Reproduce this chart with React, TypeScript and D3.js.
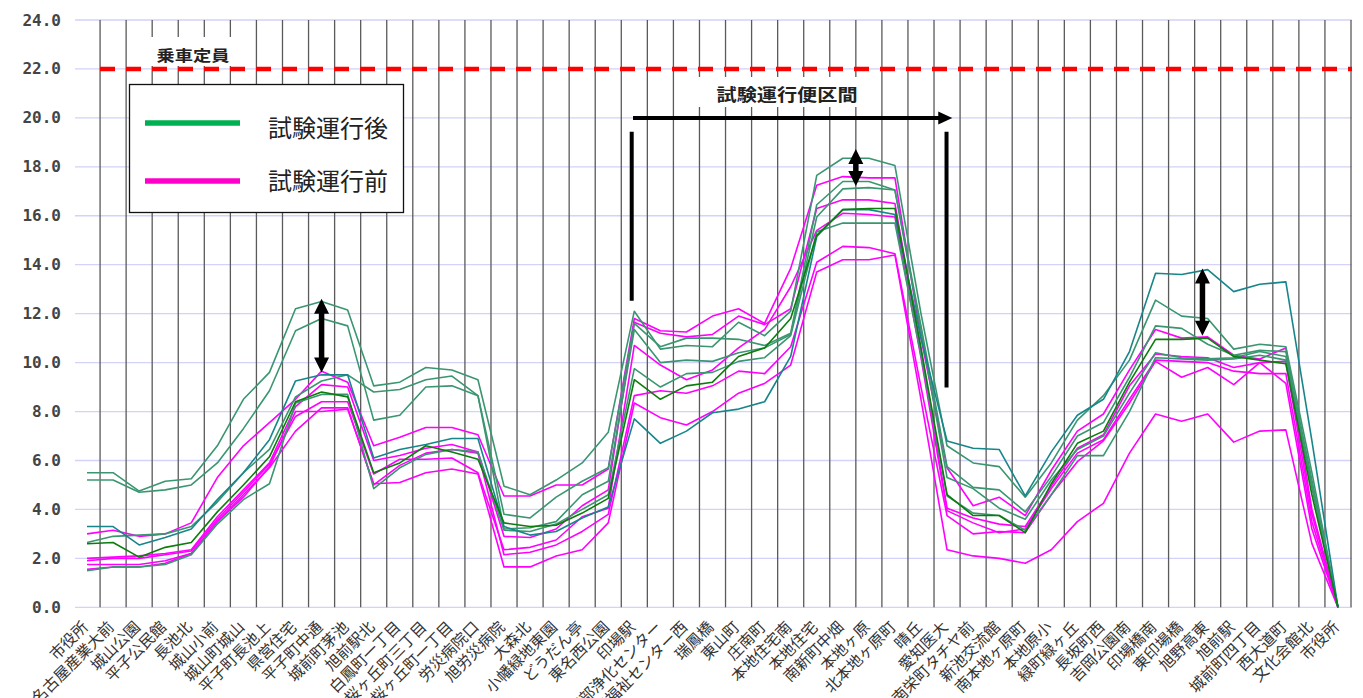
import React from 'react';
import * as d3 from 'd3';

const stations = [
  '市役所', '名古屋産業大前', '城山公園', '平子公民館', '長池北', '城山小前', '城山町城山', '平子町長池上',
  '県営住宅', '平子町中通', '城前町茅池', '旭前駅北', '白鳳町一丁目', '桜ヶ丘町三丁目', '桜ヶ丘町一丁目',
  '労災病院口', '旭労災病院', '大森北', '小幡緑地東園', 'どうだん亭', '東名西公園', '印場駅',
  '東部浄化センター', '保健福祉センター西', '瑞鳳橋', '東山町', '庄南町', '本地住宅南', '本地住宅',
  '南新町中畑', '本地ヶ原', '北本地ヶ原町', '晴丘', '愛知医大', '南栄町タチヤ前', '新池交流館',
  '南本地ヶ原町', '本地原小', '緑町緑ヶ丘', '長坂町西', '吉岡公園南', '印場橋南', '東印場橋',
  '旭野高東', '旭前駅', '城前町四丁目', '西大道町', '文化会館北', '市役所',
];

const yTicks = [0, 2, 4, 6, 8, 10, 12, 14, 16, 18, 20, 22, 24];

// 試験運行後
const afterG1 = [5.5, 5.5, 4.75, 5.15, 5.25, 6.6, 8.5, 9.6, 12.2, 12.5, 12.15, 9.05, 9.2, 9.8, 9.7, 9.3, 4.95, 4.6, 5.2, 5.9, 7.15, 12.1, 10.55, 10.7, 10.65, 11.65, 11.1, 12.1, 17.65, 18.35, 18.35, 18.05, 12.0, 6.6, 5.9, 5.75, 4.5, 5.9, 7.65, 8.65, 10.1, 12.55, 11.9, 11.8, 10.55, 10.75, 10.65, 5.5, 0];
const afterG2 = [5.2, 5.2, 4.7, 4.8, 5.0, 5.9, 7.3, 8.85, 11.3, 11.8, 11.5, 7.65, 7.85, 9.0, 9.05, 8.65, 3.8, 3.65, 4.5, 5.15, 5.7, 11.6, 10.65, 11.0, 11.0, 10.95, 10.7, 11.2, 16.45, 17.4, 17.4, 17.05, 11.5, 5.75, 4.9, 4.8, 3.9, 5.35, 7.0, 7.55, 9.4, 11.5, 11.4, 10.75, 10.3, 10.5, 10.45, 5.2, 0];
const afterG3 = [2.65, 2.9, 2.95, 3.0, 3.3, 4.3, 5.5, 6.45, 8.6, 9.25, 9.5, 8.8, 8.9, 9.3, 9.45, 8.65, 3.2, 3.25, 3.5, 4.6, 5.15, 11.35, 10.0, 10.1, 10.05, 10.4, 10.6, 11.15, 15.95, 17.1, 17.15, 17.05, 11.3, 5.3, 4.85, 4.05, 3.6, 5.2, 6.45, 7.0, 8.75, 10.4, 10.2, 10.15, 10.2, 10.45, 10.25, 5.0, 0];
const afterG4 = [1.5, 1.65, 1.65, 1.75, 2.15, 3.4, 4.4, 5.05, 8.35, 8.7, 8.7, 4.85, 5.7, 6.25, 6.45, 6.35, 3.15, 3.1, 3.4, 4.0, 4.6, 9.75, 9.0, 9.55, 9.6, 10.05, 10.2, 11.1, 15.35, 15.7, 15.7, 15.7, 10.3, 4.55, 3.85, 3.75, 3.15, 4.6, 6.2, 6.2, 8.0, 10.2, 10.15, 10.1, 10.15, 10.3, 10.1, 4.9, 0];
const afterDark = [2.6, 2.65, 2.05, 2.45, 2.65, 3.9, 5.0, 6.15, 8.4, 8.8, 8.6, 5.5, 5.9, 6.6, 6.35, 6.05, 3.45, 3.3, 3.35, 3.85, 4.45, 9.3, 8.5, 9.05, 9.2, 10.25, 10.6, 11.8, 15.2, 16.25, 16.3, 16.3, 10.6, 4.6, 3.75, 3.75, 3.05, 5.05, 6.7, 7.2, 9.2, 10.95, 10.95, 11.0, 10.25, 10.1, 9.95, 4.6, 0];
const afterTeal = [3.3, 3.3, 2.55, 2.85, 3.2, 4.4, 5.5, 6.85, 9.25, 9.5, 9.5, 6.1, 6.45, 6.65, 6.9, 6.9, 3.3, 2.95, 3.1, 3.65, 4.1, 7.7, 6.7, 7.2, 7.95, 8.1, 8.4, 10.25, 15.15, 16.25, 16.25, 16.05, 11.0, 6.8, 6.5, 6.45, 4.55, 6.35, 7.85, 8.5, 10.45, 13.65, 13.6, 13.8, 12.9, 13.2, 13.3, 6.8, 0];

// 試験運行前
const beforeM1 = [3.0, 3.15, 2.9, 3.0, 3.45, 5.3, 6.6, 7.55, 8.5, 9.65, 9.2, 6.6, 6.95, 7.35, 7.35, 7.05, 4.55, 4.55, 5.0, 5.0, 5.65, 11.8, 11.3, 11.25, 11.9, 12.2, 11.6, 13.85, 17.25, 17.6, 17.55, 17.55, 11.0, 5.7, 4.15, 4.5, 3.75, 5.6, 7.2, 7.9, 9.7, 11.35, 11.0, 11.05, 10.3, 10.15, 10.6, 4.0, 0];
const beforeM2 = [2.0, 2.05, 2.1, 2.2, 2.35, 3.7, 4.8, 5.9, 8.2, 9.1, 9.0, 6.0, 6.2, 6.5, 6.65, 6.35, 2.9, 2.85, 3.2, 4.15, 4.8, 11.65, 11.2, 11.05, 11.15, 11.9, 11.55, 12.2, 16.3, 16.65, 16.65, 16.5, 10.5, 4.05, 3.65, 3.4, 3.3, 4.95, 6.5, 7.05, 9.05, 10.35, 10.25, 10.2, 9.8, 10.0, 10.05, 3.8, 0];
const beforeM3 = [1.9, 2.0, 2.0, 2.15, 2.3, 3.6, 4.7, 5.85, 7.8, 8.4, 8.4, 5.45, 6.05, 6.05, 6.1, 5.5, 2.35, 2.45, 2.75, 3.7, 4.05, 10.7, 9.9, 9.3, 9.7, 10.6, 11.35, 13.1, 15.4, 16.1, 16.05, 15.95, 10.2, 3.95, 3.45, 3.05, 3.2, 4.85, 6.3, 6.85, 8.5, 10.1, 10.05, 10.0, 9.65, 9.55, 9.55, 3.5, 0];
const beforeM4 = [1.75, 1.75, 1.75, 1.9, 2.2, 3.5, 4.6, 5.7, 7.2, 8.15, 8.15, 5.0, 5.8, 6.3, 6.45, 6.3, 2.15, 2.25, 2.55, 3.1, 3.8, 8.65, 8.85, 8.75, 9.05, 9.65, 9.55, 10.65, 14.1, 14.75, 14.7, 14.45, 9.0, 3.75, 3.0, 3.1, 3.05, 4.6, 5.95, 6.8, 8.35, 10.05, 9.4, 9.8, 9.1, 10.0, 9.15, 3.2, 0];
const beforeM5 = [1.55, 1.65, 1.65, 1.8, 2.2, 3.5, 4.5, 5.75, 8.0, 8.0, 8.1, 5.05, 5.1, 5.5, 5.65, 5.45, 1.65, 1.65, 2.1, 2.35, 3.45, 8.35, 7.75, 7.45, 8.0, 8.75, 9.15, 9.9, 13.7, 14.2, 14.2, 14.4, 8.5, 2.35, 2.1, 2.0, 1.8, 2.35, 3.5, 4.25, 6.3, 7.9, 7.6, 7.9, 6.75, 7.2, 7.25, 2.6, 0];

const capacity = 22;
const legendLabels = ['試験運行後', '試験運行前'];

const SEA = '#3a9670';
const TEAL = '#17868a';
const DARK = '#0b7d0b';
const MAG = '#ff00ff';

export default function App() {
  const W = 1363;
  const H = 698;
  const x = d3.scaleBand<number>().domain(d3.range(stations.length)).range([74, 1351]).padding(0);
  const bw = x.bandwidth();
  const cx = (i: number) => (x(i) as number) + bw / 2;
  const xf = (f: number) => 74 + bw * (f + 0.5);
  const y = d3.scaleLinear().domain([0, 24]).range([607.3, 20]);
  const line = d3.line<number>().x((_, i) => cx(i)).y((d) => y(d));

  const series = [
    { v: beforeM5, c: MAG },
    { v: beforeM4, c: MAG },
    { v: beforeM3, c: MAG },
    { v: beforeM2, c: MAG },
    { v: beforeM1, c: MAG },
    { v: afterG4, c: SEA },
    { v: afterG3, c: SEA },
    { v: afterG2, c: SEA },
    { v: afterG1, c: SEA },
    { v: afterTeal, c: TEAL },
    { v: afterDark, c: DARK },
  ];

  const boundaries = d3.range(1, stations.length + 1).map((k) => 74 + bw * k);

  const dblArrow = (xp: number, yTop: number, yBot: number, key: string) => (
    <g key={key}>
      <line x1={xp} x2={xp} y1={yTop + 12} y2={yBot - 12} stroke="#000" strokeWidth={5.5} />
      <polygon points={`${xp},${yTop} ${xp - 7.5},${yTop + 15} ${xp + 7.5},${yTop + 15}`} fill="#000" />
      <polygon points={`${xp},${yBot} ${xp - 7.5},${yBot - 15} ${xp + 7.5},${yBot - 15}`} fill="#000" />
    </g>
  );

  const arrowY = y(20);
  const ax1 = xf(20.95);
  const ax2 = xf(33.2);

  return (
    <svg width={W} height={H} style={{ position: 'absolute', left: 0, top: 0, background: '#fff' }}>
      <rect x={0} y={0} width={W} height={H} fill="#fff" />
      {/* horizontal grid */}
      {yTicks.map((t) => (
        <line key={`h${t}`} x1={75} x2={1352} y1={y(t)} y2={y(t)} stroke="#d2d2fa" strokeWidth={1.3} />
      ))}
      {/* vertical category lines */}
      {boundaries.map((bx, k) => (
        <line key={`v${k}`} x1={bx} x2={bx} y1={y(24)} y2={y(0)} stroke="#5a5a5a" strokeWidth={1.3} />
      ))}
      {/* y tick labels */}
      {yTicks.map((t) => (
        <text
          key={`yt${t}`}
          x={61}
          y={y(t)}
          textAnchor="end"
          dominantBaseline="central"
          fontFamily="'DejaVu Sans Mono', monospace"
          fontWeight="bold"
          fontSize={16}
          fill="#444"
        >
          {t.toFixed(1)}
        </text>
      ))}
      {/* x labels */}
      {stations.map((s, i) => {
        const lx = cx(i) + 2;
        const ly = 628;
        return (
          <text
            key={`xl${i}`}
            x={lx}
            y={ly}
            transform={`rotate(-45, ${lx}, ${ly})`}
            textAnchor="end"
            fontFamily="'Noto Sans CJK JP', sans-serif"
            fontSize={15.5}
            fill="#333"
          >
            {s}
          </text>
        );
      })}
      {/* label boxes */}
      <rect x={140} y={37} width={100} height={29} fill="#fff" />
      <text
        x={xf(4.07)}
        y={y(22.6)}
        textAnchor="middle"
        dominantBaseline="central"
        fontFamily="'Noto Sans CJK JP', sans-serif"
        fontWeight="bold"
        fontSize={15}
        fill="#222"
        textLength={73}
        lengthAdjust="spacingAndGlyphs"
      >
        乗車定員
      </text>
      <rect x={690} y={77} width={180} height={30} fill="#fff" />
      <text
        x={xf(26.86)}
        y={y(20.98)}
        textAnchor="middle"
        dominantBaseline="central"
        fontFamily="'Noto Sans CJK JP', sans-serif"
        fontWeight="bold"
        fontSize={17}
        fill="#222"
        textLength={141}
        lengthAdjust="spacingAndGlyphs"
      >
        試験運行便区間
      </text>
      {/* capacity line */}
      <line
        x1={100}
        x2={1352}
        y1={y(capacity)}
        y2={y(capacity)}
        stroke="#ff0000"
        strokeWidth={4.5}
        strokeDasharray="15 11"
      />
      {/* legend */}
      <rect x={129.5} y={84.5} width={274} height={128} fill="#fff" stroke="#111" strokeWidth={1.3} />
      <line x1={145} x2={240} y1={123} y2={123} stroke="#00b050" strokeWidth={5.5} />
      <line x1={145} x2={240} y1={181} y2={181} stroke="#ff00cc" strokeWidth={5.5} />
      <text x={268} y={126} dominantBaseline="central" fontFamily="'Noto Sans CJK JP', sans-serif" fontSize={24} fill="#222">
        {legendLabels[0]}
      </text>
      <text x={268} y={179} dominantBaseline="central" fontFamily="'Noto Sans CJK JP', sans-serif" fontSize={24} fill="#222">
        {legendLabels[1]}
      </text>
      {/* data lines */}
      {series.map((s, k) => (
        <path key={`s${k}`} d={line(s.v) || ''} fill="none" stroke={s.c} strokeWidth={1.6} strokeLinejoin="round" />
      ))}
      {/* annotations */}
      {dblArrow(cx(9), y(12.61), y(9.59), 'a1')}
      {dblArrow(xf(29.5), y(18.73), y(17.22), 'a2')}
      {dblArrow(xf(42.8), y(13.84), y(11.1), 'a3')}
      <line x1={xf(20.9)} x2={xf(20.9)} y1={y(19.43)} y2={y(12.53)} stroke="#000" strokeWidth={4} />
      <line x1={xf(32.98)} x2={xf(32.98)} y1={y(19.43)} y2={y(8.98)} stroke="#000" strokeWidth={4} />
      <line x1={ax1} x2={ax2 - 10} y1={arrowY} y2={arrowY} stroke="#000" strokeWidth={4} />
      <polygon points={`${ax2},${arrowY} ${ax2 - 14},${arrowY - 6.5} ${ax2 - 14},${arrowY + 6.5}`} fill="#000" />
    </svg>
  );
}
